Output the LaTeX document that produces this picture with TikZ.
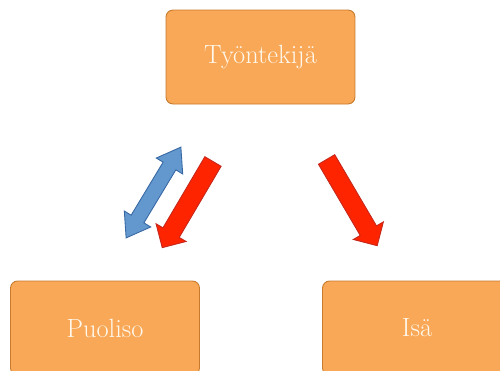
\documentclass[tikz,border=0pt]{standalone}
\usetikzlibrary{shapes.arrows}
\definecolor{boxfill}{HTML}{F9A857}
\definecolor{boxline}{HTML}{C77A2C}
\definecolor{boxtext}{HTML}{FFF8EC}
\definecolor{redfill}{HTML}{FF2400}
\definecolor{redline}{HTML}{C4281C}
\definecolor{bluefill}{HTML}{6298CE}
\definecolor{blueline}{HTML}{3868A4}
\begin{document}
\begin{tikzpicture}
          [x=0.02cm,y=-0.02cm,line width=0.5pt,
           person/.style={draw=boxline, fill=boxfill, rounded corners=0.14cm, minimum width=3.78cm, minimum height=1.88cm, text=boxtext, font=\fontsize{15}{18}\selectfont},
           redarrow/.style={single arrow, draw=redline, fill=redfill, inner xsep=0pt, inner ysep=0.18cm, single arrow head extend=0.16cm, minimum height=2cm},
           bluearrow/.style={double arrow, draw=blueline, fill=bluefill, inner xsep=0pt, inner ysep=0.14cm, double arrow head extend=0.16cm, double arrow tip angle=70, minimum height=2.12cm}]
        \useasboundingbox (0,0) rectangle (500,370);
        \clip (0,0) rectangle (500,370);
        \node[person] (tyontekija) at (260.5,57) {Työntekijä};
        \node[person] (puoliso) at (105,328) {Puoliso};
        \node[person] (isa) at (417,328) {Isä};

        \node[bluearrow, rotate=58.9] (vuoro) at (153.5,192.5) {};
        \node[redarrow, rotate=239.5] (paine1) at (190,200.5) {};
        \node[redarrow, rotate=300.4] (paine2) at (349.5,198.5) {};
      \end{tikzpicture}
\end{document}
